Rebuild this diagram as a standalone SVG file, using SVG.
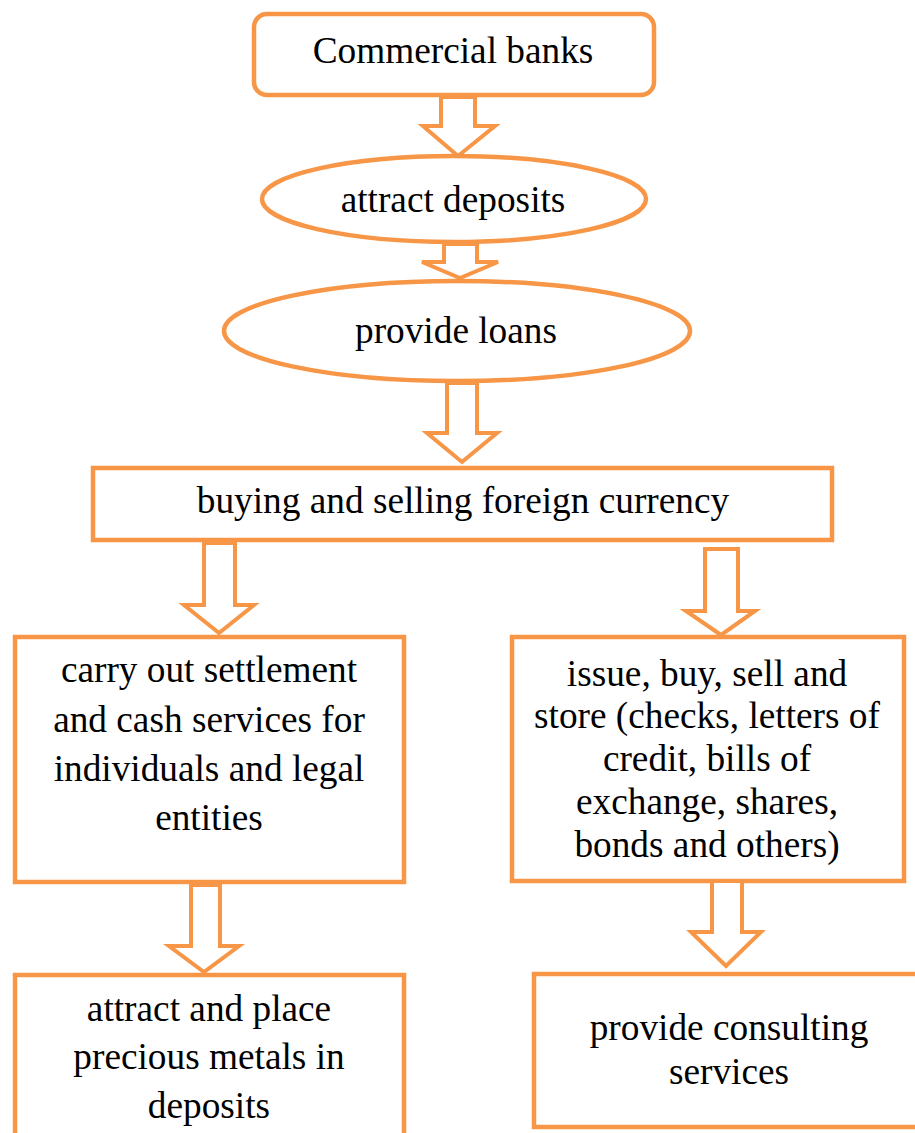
<svg xmlns="http://www.w3.org/2000/svg" width="915" height="1133" viewBox="0 0 915 1133">
<style>
.n{fill:#fff;stroke:#F79646;stroke-width:4.5}
.a{fill:#fff;stroke:#F79646;stroke-width:4;stroke-linejoin:miter}
text{font-family:"Liberation Serif","Times New Roman",serif;font-size:37.3px;fill:#000;text-anchor:middle}
</style>
<rect width="915" height="1133" fill="#fff"/>
<g id="n1"><rect class="n" x="254" y="14" width="400" height="81" rx="13"/><text x="453" y="63">Commercial banks</text></g>
<g id="n2"><ellipse class="n" cx="454" cy="199" rx="192" ry="43"/><text x="453" y="212">attract deposits</text></g>
<g id="n3"><ellipse class="n" cx="457" cy="331" rx="233" ry="50"/><text x="456" y="343">provide loans</text></g>
<g id="n4"><rect class="n" x="93" y="468" width="739" height="72"/><text x="463" y="513">buying and selling foreign currency</text></g>
<g id="n5"><rect class="n" x="15" y="637" width="389" height="245"/>
<text x="209" y="682">carry out settlement</text><text x="209" y="732">and cash services for</text><text x="209" y="781">individuals and legal</text><text x="209" y="830">entities</text></g>
<g id="n6"><rect class="n" x="512" y="637" width="392" height="244"/>
<text x="707" y="686">issue, buy, sell and</text><text x="707" y="728">store (checks, letters of</text><text x="707" y="771">credit, bills of</text><text x="707" y="814">exchange, shares,</text><text x="707" y="857">bonds and others)</text></g>
<g id="n7"><rect class="n" x="15" y="975" width="389" height="170"/>
<text x="209" y="1021">attract and place</text><text x="209" y="1069">precious metals in</text><text x="209" y="1118">deposits</text></g>
<g id="n8"><rect class="n" x="534" y="974" width="392" height="153"/>
<text x="729" y="1040">provide consulting</text><text x="729" y="1084">services</text></g>
<g id="connectors">
<polygon class="a" points="441,97 475,97 475,126 495,126 458,156 423,126 441,126"/>
<polygon class="a" points="444,244 477,244 477,262 498,262 460,278 422,262 444,262"/>
<polygon class="a" points="447,383 477,383 477,433 497,433 462,462 427,433 447,433"/>
<polygon class="a" points="204,543 235,543 235,605 254,605 219,633 184,605 204,605"/>
<polygon class="a" points="705,549 738,549 738,611 755,611 721,635 686,611 705,611"/>
<polygon class="a" points="191,885 220,885 220,946 239,946 204,972 169,946 191,946"/>
<polygon class="a" points="712,881 742,881 742,932 761,932 726,966 691,932 712,932"/>
</g>
</svg>
